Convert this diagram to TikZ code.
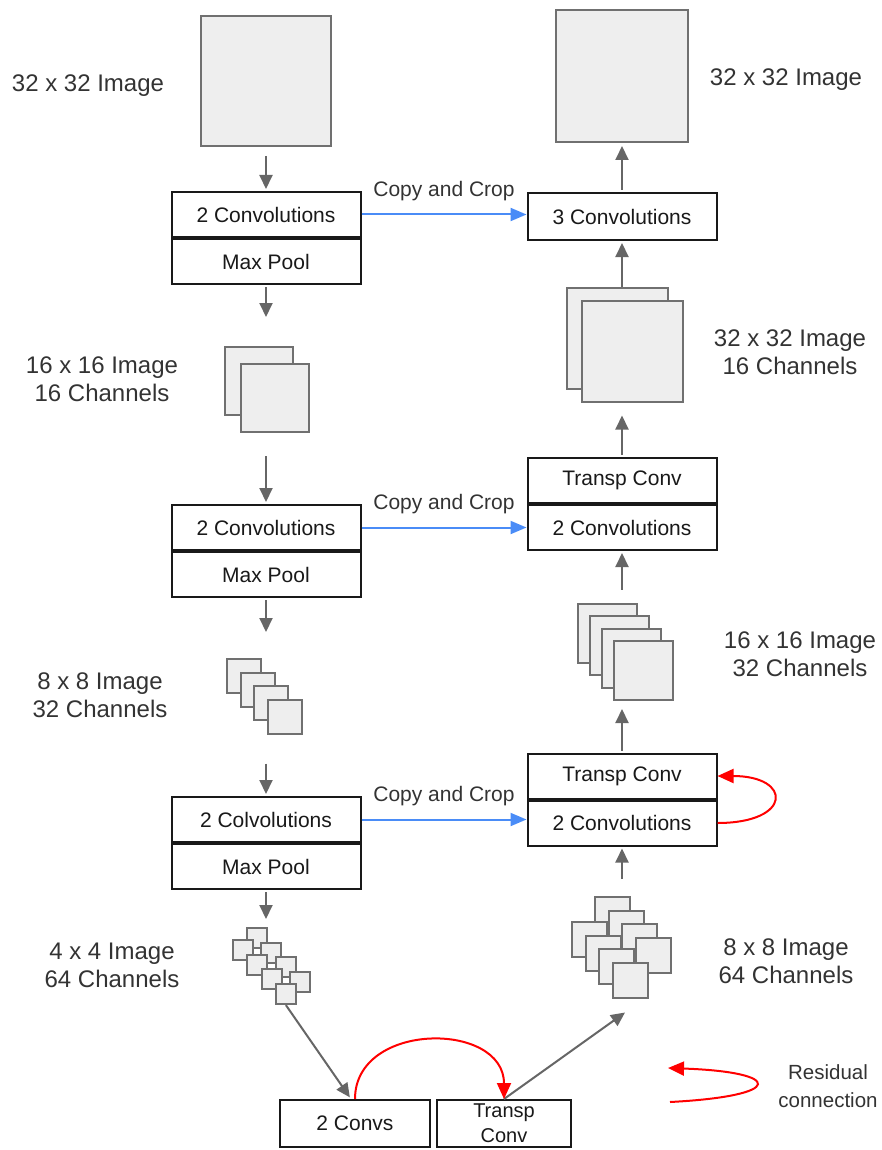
\documentclass[tikz,border=0pt]{standalone}
\usepackage{fontspec}
\setmainfont{Liberation Sans}
\usetikzlibrary{arrows.meta,positioning}

\definecolor{arrgray}{HTML}{666666}
\definecolor{sqdraw}{HTML}{707070}
\definecolor{sqfill}{HTML}{EEEEEE}
\definecolor{lblgray}{HTML}{333333}
\definecolor{copyblue}{HTML}{4A8CF7}

\tikzset{
  sq/.style={draw=sqdraw, fill=sqfill, line width=2pt, minimum size=#1, inner sep=0pt},
  convbox/.style={draw=black!90, fill=white, text=black!90, line width=2pt, minimum width=189pt, minimum height=45pt, inner sep=0pt, font=\fontsize{21}{25}\selectfont},
  lbl/.style={text=lblgray, align=center, font=\fontsize{24}{28}\selectfont},
  copylbl/.style={text=lblgray, inner sep=0pt, font=\fontsize{21}{25}\selectfont},
  flow/.style={draw=arrgray, line width=2pt, -{Triangle[width=13pt,length=14pt]}},
  copyline/.style={draw=copyblue, line width=2pt, -{Triangle[width=13pt,length=16pt]}},
  resid/.style={draw=red, line width=2pt, -{Triangle[width=14pt,length=16pt]}}
}

\begin{document}
\begin{tikzpicture}[x=1pt, y=-1pt]
    \useasboundingbox (0,0) rectangle (881,1150);

    % encoder
    \node [sq=130pt] (img1) at (266,81) {};
    \node [lbl] (img1 lbl) at (88,86) {32 x 32 Image};
    \node [convbox] (conv1) at (266,214.5) {2 Convolutions};
    \node [convbox, below=0pt of conv1] (pool1) {Max Pool};

    \node [sq=68pt] (enc1a) at (259,381) {};
    \node [sq=68pt] (enc1b) at (275,398) {};
    \node [lbl] (enc1 lbl) at (102,379) {16 x 16 Image\\16 Channels};

    \node [convbox] (conv2) at (266,527.5) {2 Convolutions};
    \node [convbox, below=0pt of conv2] (pool2) {Max Pool};

    \foreach \i/\n in {0/a,1/b,2/c,3/d}
      \node [sq=34pt] (enc2\n) at (244+13.5*\i, 676+13.5*\i) {};
    \node [lbl] (enc2 lbl) at (100,695) {8 x 8 Image\\32 Channels};

    \node [convbox] (conv3) at (266,819.5) {2 Colvolutions};
    \node [convbox, below=0pt of conv3] (pool3) {Max Pool};

    \foreach \i/\n/\m in {0/a/e,1/b/f,2/c/g,3/d/h} {
      \node [sq=20pt] (enc3\n) at (257+14.3*\i, 938+14.7*\i) {};
      \node [sq=20pt] (enc3\m) at (243+14.3*\i, 950+14.7*\i) {};
    }
    \node [lbl] (enc3 lbl) at (112,965) {4 x 4 Image\\64 Channels};

    % bottleneck
    \node [convbox, minimum width=150pt, minimum height=47pt] (convs) at (355,1123.5) {2 Convs};
    \node [convbox, minimum width=134pt, minimum height=47pt, align=center, font=\fontsize{20}{25}\selectfont] (tconv) at (504,1123.5) {Transp\\Conv};

    % decoder
    \foreach \i/\n/\m in {0/a/e,1/b/f,2/c/g,3/d/h} {
      \node [sq=35pt] (dec3\n) at (612.5+13.5*\i, 914.5+13.5*\i) {};
      \node [sq=35pt] (dec3\m) at (589.5+13.5*\i, 939.5+13.5*\i) {};
    }
    \node [lbl] (dec3 lbl) at (786,961) {8 x 8 Image\\64 Channels};

    \node [convbox] (up1a) at (622,776) {Transp Conv};
    \node [convbox, below=0pt of up1a] (up1b) {2 Convolutions};

    \foreach \i/\n in {0/a,1/b,2/c,3/d}
      \node [sq=59pt] (dec2\n) at (607+12.2*\i, 633+12.5*\i) {};
    \node [lbl] (dec2 lbl) at (800,654) {16 x 16 Image\\32 Channels};

    \node [convbox] (up2a) at (622,480.5) {Transp Conv};
    \node [convbox, below=0pt of up2a] (up2b) {2 Convolutions};

    \node [sq=101pt] (dec1a) at (617,338) {};
    \node [sq=101pt] (dec1b) at (632,351) {};
    \node [lbl] (dec1 lbl) at (790,352) {32 x 32 Image\\16 Channels};

    \node [convbox, minimum height=47pt] (up3) at (622,216.5) {3 Convolutions};
    \node [sq=132pt] (img2) at (622,76) {};
    \node [lbl] (img2 lbl) at (786,80) {32 x 32 Image};

    % down path
    \draw [flow, shorten <=9pt, shorten >=2pt] (img1.south) -- (conv1.north);
    \draw [flow, shorten <=2pt, shorten >=29pt] (pool1.south) -- (pool1.south |- enc1a.north);
    \draw [flow, shorten <=23pt, shorten >=2pt] (conv2.north |- enc1b.south) -- (conv2.north);
    \draw [flow, shorten <=2pt, shorten >=26pt] (pool2.south) -- (pool2.south |- enc2a.north);
    \draw [flow, shorten <=29pt, shorten >=2pt] (conv3.north |- enc2d.south) -- (conv3.north);
    \draw [flow, shorten <=2pt, shorten >=8pt] (pool3.south) -- (pool3.south |- enc3a.north);
    \draw [flow, shorten >=2pt] (enc3h.south) -- ([xshift=-4pt]convs.north);

    % up path
    \draw [flow] (tconv.north) -- ([xshift=-5pt, yshift=-14pt]dec3h.south);
    \draw [flow, shorten <=17pt, shorten >=2pt] (up1b.south |- dec3a.north) -- (up1b.south);
    \draw [flow, shorten <=2pt, shorten >=8pt] (up1a.north) -- (up1a.north |- dec2d.south);
    \draw [flow, shorten <=13pt, shorten >=2pt] (up2b.south |- dec2a.north) -- (up2b.south);
    \draw [flow, shorten <=2pt, shorten >=13pt] (up2a.north) -- (up2a.north |- dec1b.south);
    \draw [flow, shorten >=2pt] (up3.south |- dec1a.north) -- (up3.south);
    \draw [flow, shorten <=2pt, shorten >=3pt] (up3.north) -- (img2.south);

    % copy and crop
    \draw [copyline] (conv1.east) -- (conv1.east -| up3.west) node [midway, above=13pt, copylbl] {Copy and Crop};
    \draw [copyline] (conv2.east) -- (conv2.east -| up2b.west) node [midway, above=13pt, copylbl] {Copy and Crop};
    \draw [copyline] (conv3.east) -- (conv3.east -| up1b.west) node [midway, above=13pt, copylbl] {Copy and Crop};

    % residual
    \draw [resid] (convs.north) .. controls +(0,-78) and +(0,-78) .. (tconv.north);
    \draw [resid] (up1b.east) .. controls +(75,0) and +(75,0) .. (up1a.east);

    % legend
    \coordinate (leg start) at (670,1102);
    \coordinate (leg end) at (668,1068);
    \draw [resid] (leg start) .. controls +(116,-6) and +(116,4) .. (leg end);
    \node [lbl, font=\fontsize{20.5}{28}\selectfont] (leg lbl) at (828,1086) {Residual\\connection};
\end{tikzpicture}
\end{document}
